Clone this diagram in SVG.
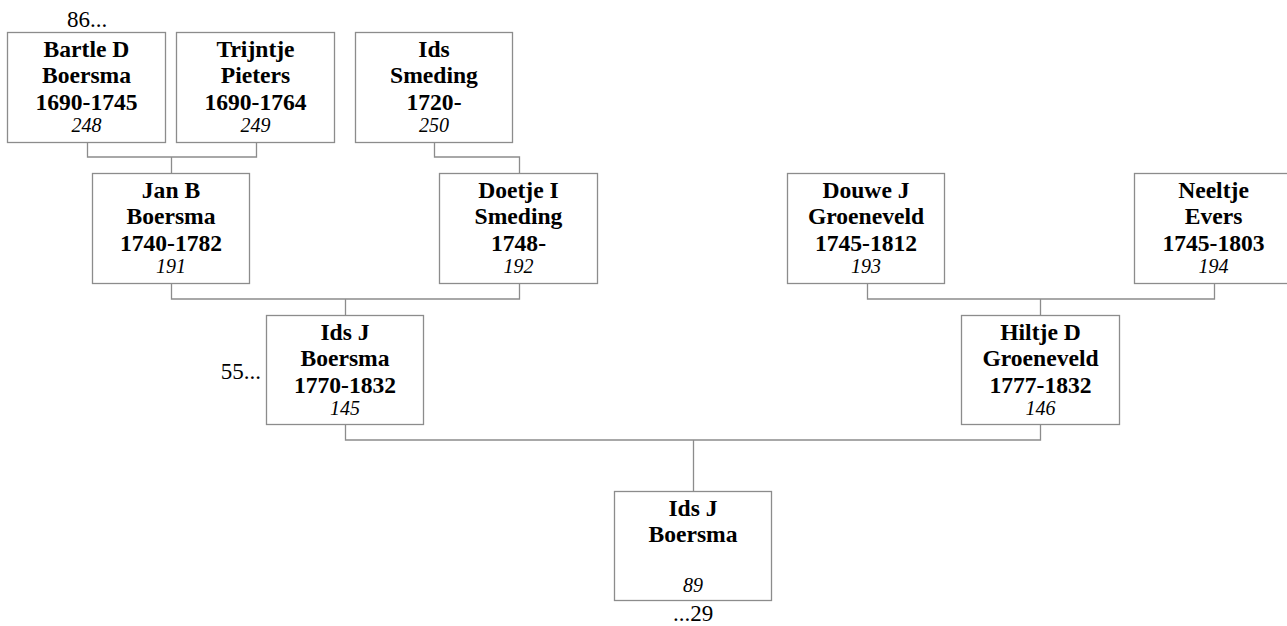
<svg xmlns="http://www.w3.org/2000/svg" width="1287" height="626" viewBox="0 0 1287 626">
<style>
.box{fill:#fff;stroke:#8c8c8c;stroke-width:1.3}
.con{fill:none;stroke:#8c8c8c;stroke-width:1.3}
.b{font-family:"Liberation Serif","Times New Roman",serif;font-weight:bold;font-size:23.6px;text-anchor:middle;fill:#000}
.i{font-family:"Liberation Serif","Times New Roman",serif;font-style:italic;font-size:20px;text-anchor:middle;fill:#000}
.n{font-family:"Liberation Serif","Times New Roman",serif;font-size:23px;fill:#000}
</style>
<rect width="1287" height="626" fill="#fff"/>
<g id="connectors">
<path class="con" d="M87.5 142V157H256.5V142M171.5 157V173"/>
<path class="con" d="M434.5 142V157H519.5V173"/>
<path class="con" d="M171.5 283V299H519.5V283M345.5 299V315"/>
<path class="con" d="M867.5 283V299H1214.5V283M1040.5 299V315"/>
<path class="con" d="M345.5 425V440H1040.5V425M693.5 440V491"/>
</g>
<g id="n248"><rect class="box" x="7.5" y="32.5" width="158" height="110"/>
<text class="b" x="86.5" y="57">Bartle D</text><text class="b" x="86.5" y="83">Boersma</text><text class="b" x="86.5" y="110">1690-1745</text><text class="i" x="86.5" y="132">248</text></g>
<g id="n249"><rect class="box" x="176.5" y="32.5" width="158" height="110"/>
<text class="b" x="255.5" y="57">Trijntje</text><text class="b" x="255.5" y="83">Pieters</text><text class="b" x="255.5" y="110">1690-1764</text><text class="i" x="255.5" y="132">249</text></g>
<g id="n250"><rect class="box" x="355.5" y="32.5" width="157" height="110"/>
<text class="b" x="434" y="57">Ids</text><text class="b" x="434" y="83">Smeding</text><text class="b" x="434" y="110">1720-</text><text class="i" x="434" y="132">250</text></g>
<g id="n191"><rect class="box" x="92.5" y="173.5" width="157" height="110"/>
<text class="b" x="171" y="198">Jan B</text><text class="b" x="171" y="224">Boersma</text><text class="b" x="171" y="251">1740-1782</text><text class="i" x="171" y="273">191</text></g>
<g id="n192"><rect class="box" x="439.5" y="173.5" width="158" height="110"/>
<text class="b" x="518.5" y="198">Doetje I</text><text class="b" x="518.5" y="224">Smeding</text><text class="b" x="518.5" y="251">1748-</text><text class="i" x="518.5" y="273">192</text></g>
<g id="n193"><rect class="box" x="787.5" y="173.5" width="157" height="110"/>
<text class="b" x="866" y="198">Douwe J</text><text class="b" x="866" y="224">Groeneveld</text><text class="b" x="866" y="251">1745-1812</text><text class="i" x="866" y="273">193</text></g>
<g id="n194"><rect class="box" x="1134.5" y="173.5" width="158" height="110"/>
<text class="b" x="1213.5" y="198">Neeltje</text><text class="b" x="1213.5" y="224">Evers</text><text class="b" x="1213.5" y="251">1745-1803</text><text class="i" x="1213.5" y="273">194</text></g>
<g id="n145"><rect class="box" x="266.5" y="315.5" width="157" height="109"/>
<text class="b" x="345" y="340">Ids J</text><text class="b" x="345" y="366">Boersma</text><text class="b" x="345" y="393">1770-1832</text><text class="i" x="345" y="415">145</text>
<text class="n" x="261" y="379" text-anchor="end">55...</text></g>
<g id="n146"><rect class="box" x="961.5" y="315.5" width="158" height="109"/>
<text class="b" x="1040.5" y="340">Hiltje D</text><text class="b" x="1040.5" y="366">Groeneveld</text><text class="b" x="1040.5" y="393">1777-1832</text><text class="i" x="1040.5" y="415">146</text></g>
<g id="n89"><rect class="box" x="614.5" y="491.5" width="157" height="109"/>
<text class="b" x="693" y="516">Ids J</text><text class="b" x="693" y="542">Boersma</text><text class="i" x="693" y="592">89</text>
<text class="n" x="693" y="621" text-anchor="middle">...29</text></g>
<text class="n" x="87" y="27" text-anchor="middle">86...</text>
</svg>
